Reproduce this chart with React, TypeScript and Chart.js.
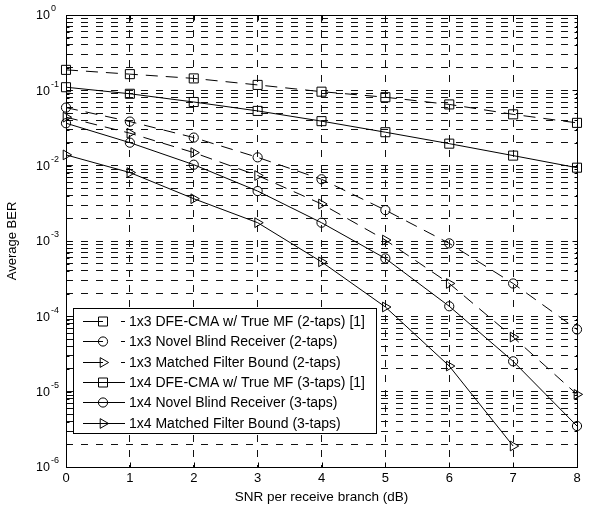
import React, { useEffect, useRef } from 'react';
import { Chart, registerables } from 'chart.js';

Chart.register(...registerables);

const FONT = '"Liberation Sans", Arial, Helvetica, sans-serif';

const snr = [0, 1, 2, 3, 4, 5, 6, 7, 8];
const xTickLabels = ['0', '1', '2', '3', '4', '5', '6', '7', '8'];

const dfe2 = [0.187, 0.164, 0.144, 0.118, 0.096, 0.081, 0.065, 0.048, 0.037];
const novel2 = [0.059, 0.0385, 0.0236, 0.0129, 0.0066, 0.00257, 0.00093, 0.000273, 0.000067];
const mfb2 = [0.044, 0.027, 0.0149, 0.0074, 0.0031, 0.00103, 0.000273, 0.000053, 0.0000092];
const dfe3 = [0.11, 0.09, 0.07, 0.0533, 0.039, 0.0278, 0.0196, 0.0136, 0.0094];
const novel3 = [0.0366, 0.0202, 0.0103, 0.0046, 0.00175, 0.000587, 0.000136, 0.0000253, 0.0000035];
const mfb3 = [0.0139, 0.0081, 0.00364, 0.00175, 0.000529, 0.000133, 0.0000219, 0.0000019, null];

const seriesLabels = [
  '1x3 DFE-CMA w/ True MF (2-taps) [1]',
  '1x3 Novel Blind Receiver (2-taps)',
  '1x3 Matched Filter Bound (2-taps)',
  '1x4 DFE-CMA w/ True MF (3-taps) [1]',
  '1x4 Novel Blind Receiver (3-taps)',
  '1x4 Matched Filter Bound (3-taps)',
];

const yDecadeExps = [-6, -5, -4, -3, -2, -1, 0];
const yTickLabelExps = ['-6', '-5', '-4', '-3', '-2', '-1', '0'];

const xTitle = 'SNR per receive branch (dB)';
const yTitle = 'Average BER';

const SERIES_DASH = [12, 8];

type Marker = 'rect' | 'circle' | 'triangle';

function makeDataset(label: string, data: (number | null)[], marker: Marker, dashed: boolean) {
  const radius = marker === 'rect' ? 6.4 : marker === 'circle' ? 4.6 : 5.6;
  return {
    label,
    data,
    borderColor: '#000',
    backgroundColor: 'rgba(0,0,0,0)',
    borderWidth: 1,
    borderDash: dashed ? SERIES_DASH : [],
    pointStyle: marker,
    pointRotation: marker === 'triangle' ? 90 : 0,
    pointRadius: radius,
    pointBorderWidth: 1,
    pointBorderColor: '#000',
    pointBackgroundColor: 'rgba(0,0,0,0)',
    tension: 0,
    spanGaps: false,
    clip: false as const,
  };
}

const seriesDefs: { data: (number | null)[]; marker: Marker; dashed: boolean }[] = [
  { data: dfe2, marker: 'rect', dashed: true },
  { data: novel2, marker: 'circle', dashed: true },
  { data: mfb2, marker: 'triangle', dashed: true },
  { data: dfe3, marker: 'rect', dashed: false },
  { data: novel3, marker: 'circle', dashed: false },
  { data: mfb3, marker: 'triangle', dashed: false },
];

function drawMarker(ctx: CanvasRenderingContext2D, marker: Marker, x: number, y: number) {
  ctx.beginPath();
  if (marker === 'rect') {
    const s = 4.5;
    ctx.rect(x - s, y - s, 2 * s, 2 * s);
  } else if (marker === 'circle') {
    ctx.arc(x, y, 4.6, 0, Math.PI * 2);
  } else {
    const r = 5.6;
    ctx.moveTo(x + r, y);
    ctx.lineTo(x - r / 2, y - r * Math.sin(Math.PI / 3));
    ctx.lineTo(x - r / 2, y + r * Math.sin(Math.PI / 3));
    ctx.closePath();
  }
  ctx.stroke();
}

const matlabPlugin = {
  id: 'matlabDecor',
  afterDraw(chart: any) {
    const { ctx, chartArea, scales } = chart;
    const { left, right, top, bottom } = chartArea;
    const xs = scales.x;
    const ys = scales.y;
    const L = Math.round(left) + 0.5;
    const R = Math.round(right) + 0.5;
    const T = Math.round(top) + 0.5;
    const B = Math.round(bottom) + 0.5;
    ctx.save();
    ctx.strokeStyle = '#000';
    ctx.lineWidth = 1;
    ctx.setLineDash([]);
    const line = (x1: number, y1: number, x2: number, y2: number) => {
      ctx.beginPath();
      ctx.moveTo(x1, y1);
      ctx.lineTo(x2, y2);
      ctx.stroke();
    };
    // frame
    ctx.strokeRect(L, T, R - L, B - T);
    // x ticks
    for (const v of snr) {
      const px = Math.round(xs.getPixelForValue(v)) + 0.5;
      line(px, B, px, B - 5);
      line(px, T, px, T + 5);
    }
    // y ticks
    for (const e of yDecadeExps) {
      const py = Math.round(ys.getPixelForValue(Math.pow(10, e))) + 0.5;
      line(L, py, L + 5, py);
      line(R, py, R - 5, py);
      if (e < 0) {
        for (let k = 2; k <= 9; k++) {
          const pm = Math.round(ys.getPixelForValue(k * Math.pow(10, e))) + 0.5;
          line(L, pm, L + 3, pm);
          line(R, pm, R - 3, pm);
        }
      }
    }
    // y tick labels with superscript exponents
    ctx.fillStyle = '#000';
    yDecadeExps.forEach((e, i) => {
      const py = ys.getPixelForValue(Math.pow(10, e));
      ctx.font = `12.5px ${FONT}`;
      ctx.textAlign = 'right';
      ctx.textBaseline = 'middle';
      ctx.fillText('10', 50, py + 1);
      ctx.font = `9px ${FONT}`;
      ctx.textAlign = 'left';
      ctx.fillText(yTickLabelExps[i], 51, py - 6);
    });
    // legend
    const bx = 73.5, by = 308.5, bw = 303, bh = 125;
    ctx.fillStyle = '#fff';
    ctx.fillRect(bx, by, bw, bh);
    ctx.strokeRect(bx, by, bw, bh);
    ctx.fillStyle = '#000';
    ctx.font = `14px ${FONT}`;
    ctx.textAlign = 'left';
    ctx.textBaseline = 'middle';
    seriesDefs.forEach((s, i) => {
      const ry = Math.round(321 + i * 20.3) + 0.5;
      ctx.setLineDash(s.dashed ? [20, 18] : []);
      line(83, ry, 125, ry);
      ctx.setLineDash([]);
      drawMarker(ctx, s.marker, 103, ry);
      ctx.fillText(seriesLabels[i], 129, ry + 0.5);
    });
    ctx.restore();
  },
};

export default function App() {
  const canvasRef = useRef<HTMLCanvasElement | null>(null);

  useEffect(() => {
    document.body.style.margin = '0';
    const canvas = canvasRef.current;
    if (!canvas) return;
    const chart = new Chart(canvas, {
      type: 'line',
      data: {
        labels: xTickLabels,
        datasets: seriesDefs.map((s, i) => makeDataset(seriesLabels[i], s.data, s.marker, s.dashed)) as any,
      },
      options: {
        responsive: false,
        animation: false,
        devicePixelRatio: 1,
        layout: { padding: { top: 15, right: 13, left: 0, bottom: 0 } },
        plugins: {
          legend: { display: false },
          tooltip: { enabled: false },
        },
        scales: {
          x: {
            type: 'linear',
            min: 0,
            max: 8,
            afterBuildTicks: (scale: any) => {
              scale.ticks = snr.map((v) => ({ value: v }));
            },
            afterFit: (scale: any) => {
              scale.height = 41;
            },
            ticks: {
              callback: (v: any) => xTickLabels[snr.indexOf(Number(v))] ?? '',
              font: { size: 13, family: FONT },
              color: '#000',
              padding: 4,
              maxRotation: 0,
              autoSkip: false,
            },
            grid: { color: '#111', lineWidth: 1, drawTicks: false },
            border: { display: false, dash: [7, 8] },
            title: {
              display: true,
              text: xTitle,
              font: { size: 13.5, family: FONT },
              color: '#000',
              padding: { top: 0, bottom: 3 },
            },
          },
          y: {
            type: 'logarithmic',
            min: 1e-6,
            max: 1,
            afterBuildTicks: (scale: any) => {
              const t: { value: number }[] = [];
              for (const e of yDecadeExps) {
                if (e < 0) {
                  for (let k = 1; k <= 9; k++) t.push({ value: k * Math.pow(10, e) });
                } else {
                  t.push({ value: 1 });
                }
              }
              scale.ticks = t;
            },
            afterFit: (scale: any) => {
              scale.width = 66;
            },
            ticks: { display: false },
            grid: { color: '#111', lineWidth: 1, drawTicks: false },
            border: { display: false, dash: [7, 8] },
            title: {
              display: true,
              text: yTitle,
              font: { size: 13, family: FONT },
              color: '#000',
              padding: { top: 5, bottom: 0 },
            },
          },
        },
      },
      plugins: [matlabPlugin],
    });
    return () => chart.destroy();
  }, []);

  return (
    <div style={{ position: 'absolute', left: 0, top: 0, width: 590, height: 508 }}>
      <canvas ref={canvasRef} width={590} height={508} style={{ width: 590, height: 508, display: 'block' }} />
    </div>
  );
}
